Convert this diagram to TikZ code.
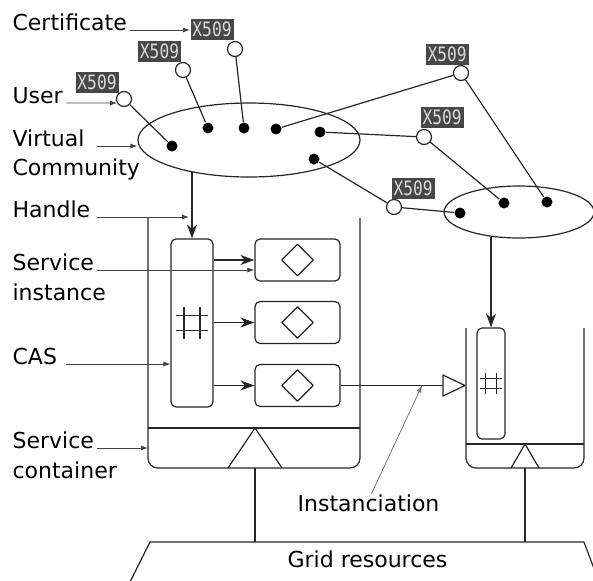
\documentclass[tikz,border=0pt]{standalone}
\usepackage{fontspec}
\setmainfont{DejaVu Sans}
\newfontfamily\xfont{DejaVu Sans Mono}
\usetikzlibrary{shapes.geometric,arrows.meta}

\tikzset{
  lab/.style={anchor=base west, inner sep=0pt, font=\fontsize{11}{13}\selectfont},
  lbl/.style={draw=black!75, line width=0.4pt, -{Latex[length=3.5pt,width=2.5pt]}},
  cert/.style={fill=black!72, text=black!15, inner sep=0pt, minimum width=21.5pt, minimum height=10.5pt, font=\xfont\fontsize{9}{9}\selectfont},
  usr/.style={circle, draw, fill=white, inner sep=0pt, minimum size=7.5pt},
  mbr/.style={circle, fill=black, inner sep=0pt, minimum size=5.5pt},
  vo/.style={ellipse, draw, inner sep=0pt},
  inst/.style={draw, rounded corners=2.5pt, minimum width=42.5pt, minimum height=21pt, inner sep=0pt},
  casbox/.style={draw, rounded corners=2.5pt, inner sep=0pt},
  svc/.style={diamond, draw, inner sep=0pt, minimum width=16pt, minimum height=16pt},
  pics/hashmark/.style={code={
    \draw (-8,-16) -- (-8,16) (8,-16) -- (8,16) (-16,-7.5) -- (16,-7.5) (-16,7.5) -- (16,7.5);}}
}

\begin{document}
\begin{tikzpicture}[x=0.5pt, y=-0.5pt, line width=0.6pt, draw=black!85, line join=round, >={Stealth[length=7pt,width=5pt]}]
	\useasboundingbox (0,0) rectangle (593,580);

	% virtual communities
	\node[vo, minimum width=111pt, minimum height=37pt] (e1) at (249,140) {};
	\node[vo, minimum width=75pt, minimum height=26pt] (e2) at (519,212) {};
	\node[mbr] (d1) at (172,146) {};
	\node[mbr] (d2) at (208,128) {};
	\node[mbr] (d3) at (244,128) {};
	\node[mbr] (d4) at (276,129) {};
	\node[mbr] (d5) at (320,132) {};
	\node[mbr] (d6) at (314,159) {};
	\node[mbr] (d7) at (460,213) {};
	\node[mbr] (d8) at (504,203) {};
	\node[mbr] (d9) at (547,202) {};

	% certificates and users
	\node[cert] (x1) at (212,29) {\scalebox{0.9}[1.1]{X509}};
	\node[cert] (x2) at (159.5,51) {\scalebox{0.9}[1.1]{X509}};
	\node[cert] (x3) at (97,82) {\scalebox{0.9}[1.1]{X509}};
	\node[cert] (x4) at (447,54.5) {\scalebox{0.9}[1.1]{X509}};
	\node[cert] (x5) at (442,117.5) {\scalebox{0.9}[1.1]{X509}};
	\node[cert] (x6) at (413,188.5) {\scalebox{0.9}[1.1]{X509}};
	\node[usr] (u1) at (235,49) {};
	\node[usr] (u2) at (183,70) {};
	\node[usr] (u3) at (124,99) {};
	\node[usr] (u4) at (461,73) {};
	\node[usr] (u5) at (424,137) {};
	\node[usr] (u6) at (394,207) {};
	\draw (u1) -- (d3) (u2) -- (d2) (u3) -- (d1);
	\draw (d4) -- (u4) -- (d9);
	\draw (d5) -- (u5) -- (d8);
	\draw (d6) -- (u6) -- (d7);

	% service container 1
	\coordinate (k1) at (148,218);
	\coordinate (k1b) at (255,468);
	\draw[rounded corners=5pt] (k1) -- (148,468) -- (360,468) -- (360,218);
	\draw (148,428) -- (360,428);
	\draw (228,468) -- (255,428) -- (282,468);
	\node[casbox, minimum width=21pt, minimum height=84pt] (cas1) at (192,323) {};
	\pic at (cas1) {hashmark};
	\foreach \i/\y in {1/260,2/322.5,3/385.5}{
		\node[inst] (si\i) at (297.5,\y) {};
		\node[svc] at (si\i) {};
		\draw[->] (cas1.east |- si\i) -- (si\i);
	}
	\draw[->] (cas1.north |- e1.-151) -- (cas1.north);

	% service container 2
	\coordinate (k2b) at (525,468);
	\draw[rounded corners=5pt] (466,328) -- (466,468) -- (584,468) -- (584,328);
	\draw (466,444) -- (584,444);
	\draw (511,468) -- (525,444) -- (539,468);
	\node[casbox, minimum width=14pt, minimum height=55.5pt] (cas2) at (491,383.5) {};
	\pic[scale=0.68] at (cas2) {hashmark};
	\draw[->] (cas2.north |- e2.-139) -- (cas2.north);

	% instanciation
	\coordinate (tb) at (443,385.5);
	\coordinate (ip) at (422,385.5);
	\draw (si3.east) -- (tb);
	\draw[fill=white] (tb) -- ++(0,-10.5) -- ++(22,10.5) -- ++(-22,10.5) -- cycle;

	% grid resources
	\coordinate (gt) at (0,542);
	\draw (130,582) -- (150,542) -- (584,542) -- (599,582);
	\draw (k1b) -- (k1b |- gt) (k2b) -- (k2b |- gt);
	\node[lab] (grid) at (287,567) {Grid resources};

	% labels
	\coordinate (lx) at (97,0);
	\node[lab] (lcert) at (12,30) {Certificate};
	\node[lab] (luser) at (12,103) {User};
	\node[lab] (lvirt) at (12,146) {Virtual};
	\node[lab] (lcomm) at (12,175) {Community};
	\node[lab] (lhand) at (12,217) {Handle};
	\node[lab] (lserv) at (12,270) {Service};
	\node[lab] (linst) at (12,300) {instance};
	\node[lab] (lcas) at (12,364) {CAS};
	\node[lab] (lcont) at (12,448) {Service};
	\node[lab] (lcon2) at (12,478) {container};
	\node[lab] (linsc) at (297,511) {Instanciation};

	\draw[lbl] ([xshift=1.5pt]lcert.base east) -- (x1.west |- lcert.base);
	\draw[lbl] ([xshift=1.5pt]luser.base east) -- (u3.210);
	\draw[lbl] (lx |- lvirt.base) -- (e1.west |- lvirt.base);
	\draw[lbl] (lx |- lhand.base) -- ([xshift=-1.5pt]cas1.north |- lhand.base);
	\draw[lbl] (lx |- lserv.base) -- (si1.west |- lserv.base);
	\draw[lbl] ([xshift=4pt]lcas.base east) -- (cas1.west |- lcas.base);
	\draw[lbl] (lx |- lcont.base) -- (k1 |- lcont.base);
	\draw[lbl, draw=black!55] ([xshift=1.5pt]linsc.north) -- (ip);
\end{tikzpicture}
\end{document}
